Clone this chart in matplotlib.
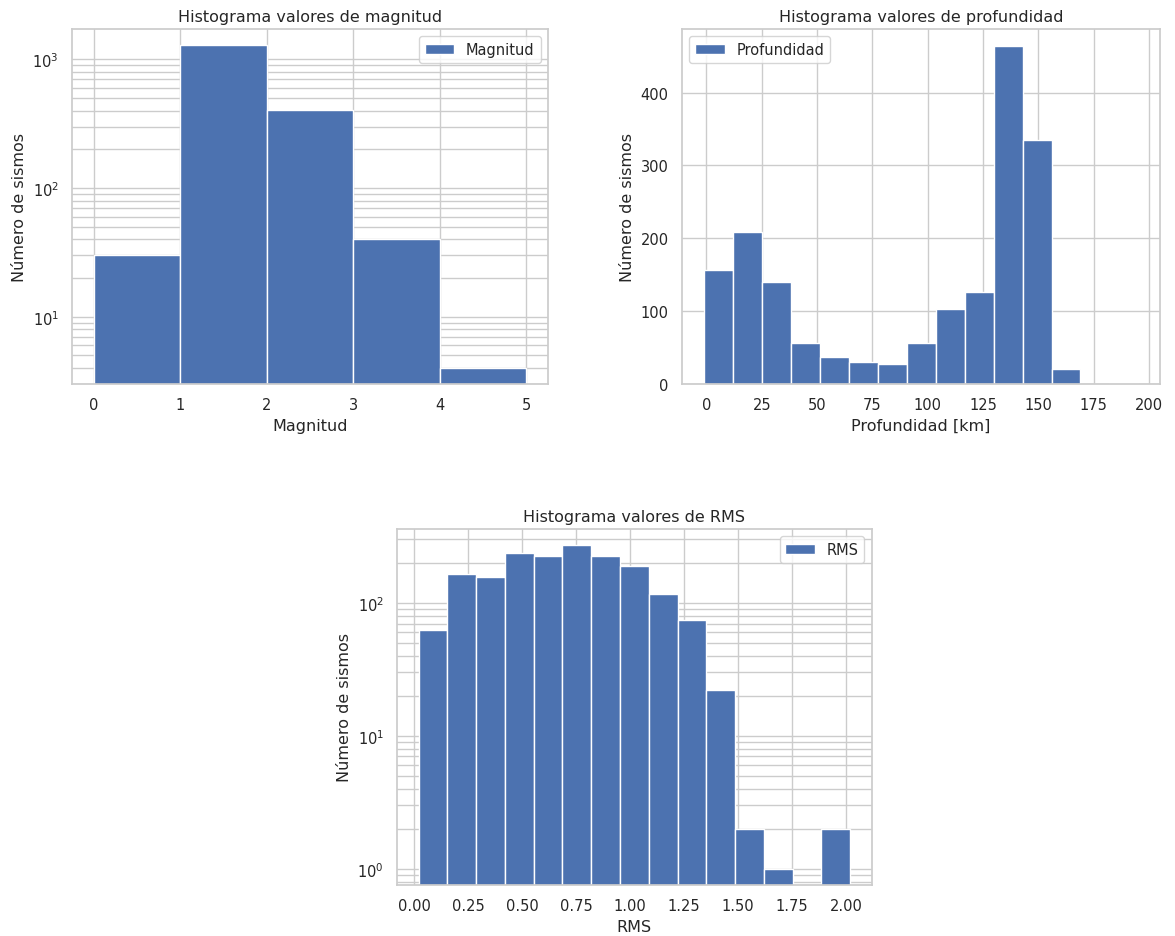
import matplotlib
matplotlib.use("Agg")
import matplotlib.pyplot as plt
import seaborn as sns
import numpy as np

sns.set_theme(style="whitegrid", font_scale=0.96)
plt.rcParams['font.family'] = ['DejaVu Sans']

# magnitud: bins 0..5
mag_edges = [0, 1, 2, 3, 4, 5]
mag_counts = [30, 1290, 405, 40, 4]

# profundidad: 15 bins
prof_edges = np.linspace(-1.2, 195.2, 16)
prof_counts = [156, 209, 140, 57, 37, 31, 28, 57, 103, 127, 464, 335, 21, 0, 1]

# RMS: 15 bins
rms_edges = np.linspace(0.02, 2.02, 16)
rms_counts = [63, 164, 157, 238, 227, 272, 227, 189, 116, 74, 22, 2, 1, 0, 2]


def histo(ax, edges, counts, label, log):
    edges = np.asarray(edges, dtype=float)
    centers = (edges[:-1] + edges[1:]) / 2
    ax.hist(centers, bins=edges, weights=counts, log=log, label=label,
            color='#4C72B0', edgecolor='white')
    ax.grid(True, which='both')


fig = plt.figure(figsize=(11.75, 9.37), dpi=100)
ax1 = fig.add_axes([0.0613, 0.589, 0.405, 0.379])
ax2 = fig.add_axes([0.5804, 0.589, 0.407, 0.379])
ax3 = fig.add_axes([0.3379, 0.0544, 0.404, 0.380])

histo(ax1, mag_edges, mag_counts, 'Magnitud', True)
ax1.set_title('Histograma valores de magnitud')
ax1.set_xlabel('Magnitud')
ax1.set_ylabel('Número de sismos')
ax1.legend(loc='upper right')

histo(ax2, prof_edges, prof_counts, 'Profundidad', False)
ax2.set_title('Histograma valores de profundidad')
ax2.set_xlabel('Profundidad [km]')
ax2.set_ylabel('Número de sismos')
ax2.legend(loc='upper left')

histo(ax3, rms_edges, rms_counts, 'RMS', True)
ax3.set_title('Histograma valores de RMS')
ax3.set_xlabel('RMS')
ax3.set_ylabel('Número de sismos')
ax3.legend(loc='upper right')

plt.savefig("out.png", dpi=100)
